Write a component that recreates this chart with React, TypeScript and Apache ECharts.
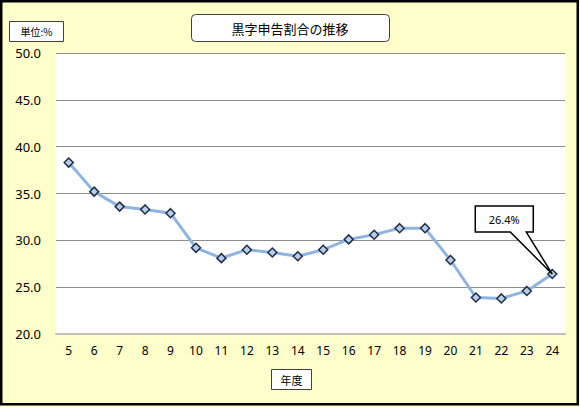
import React, { useEffect, useRef } from "react";
import * as echarts from "echarts";

const categories = ["5", "6", "7", "8", "9", "10", "11", "12", "13", "14", "15", "16", "17", "18", "19", "20", "21", "22", "23", "24"];
const values = [38.3, 35.2, 33.6, 33.3, 32.9, 29.2, 28.1, 29.0, 28.7, 28.3, 29.0, 30.1, 30.6, 31.3, 31.3, 27.9, 23.9, 23.8, 24.6, 26.4];
const titleText = "黒字申告割合の推移";
const unitText = "単位:%";
const xName = "年度";
const calloutText = "26.4%";

const W = 580;
const H = 407;
const JP = "'Noto Sans CJK JP', 'Noto Sans', sans-serif";
const NUM = "'Noto Sans', 'Liberation Sans', sans-serif";

export default function App() {
  const ref = useRef<HTMLDivElement>(null);
  useEffect(() => {
    document.body.style.margin = "0";
    if (!ref.current) return;
    const chart = echarts.init(ref.current, undefined, { renderer: "svg", width: W, height: H });
    const baseGraphic: any[] = [
      {
        type: "rect",
        silent: true,
        shape: { x: 1.25, y: 1.25, width: 576.5, height: 403 },
        style: { fill: "none", stroke: "#000", lineWidth: 2.5 },
      },
      {
        type: "rect",
        shape: { x: 191.5, y: 14.5, width: 198, height: 27, r: 4 },
        style: { fill: "#fff", stroke: "#404040", lineWidth: 1 },
      },
      {
        type: "text",
        x: 290,
        y: 28,
        style: { text: titleText, font: `13px ${JP}`, fill: "#000", align: "center", verticalAlign: "middle" },
      },
      {
        type: "rect",
        shape: { x: 9.5, y: 21.5, width: 54, height: 20 },
        style: { fill: "#fff", stroke: "#404040", lineWidth: 1 },
      },
      {
        type: "text",
        x: 36.5,
        y: 31.5,
        style: { text: unitText, font: `10px ${JP}`, fill: "#000", align: "center", verticalAlign: "middle" },
      },
      {
        type: "rect",
        shape: { x: 271.5, y: 369.5, width: 40, height: 20 },
        style: { fill: "#fff", stroke: "#404040", lineWidth: 1 },
      },
      {
        type: "text",
        x: 291.5,
        y: 379.5,
        style: { text: xName, font: `11px ${JP}`, fill: "#000", align: "center", verticalAlign: "middle" },
      },
    ];
    chart.setOption({
      animation: false,
      backgroundColor: "#FFFFCC",
      grid: {
        left: 56,
        right: 15,
        top: 53,
        bottom: 73,
        show: true,
        backgroundColor: "#fff",
        borderWidth: 0,
      },
      xAxis: {
        type: "category",
        data: categories,
        boundaryGap: true,
        axisTick: { show: false },
        axisLine: { show: true, lineStyle: { color: "#bfbfbf", width: 2 } },
        axisLabel: { color: "#000", fontSize: 12, fontFamily: NUM, margin: 10 },
      },
      yAxis: {
        type: "value",
        min: 20,
        max: 50,
        interval: 5,
        axisLine: { show: false },
        axisTick: { show: false },
        axisLabel: {
          color: "#000",
          fontSize: 13,
          fontFamily: NUM,
          margin: 15,
          formatter: (v: number) => v.toFixed(1),
        },
        splitLine: { lineStyle: { color: "#8c8c8c", width: 1 } },
      },
      graphic: baseGraphic,
      series: [
        {
          type: "line",
          data: values,
          symbol: "diamond",
          symbolSize: 9,
          lineStyle: { color: "#8EB4E3", width: 3 },
          itemStyle: { color: "#B9CDE5", borderColor: "#1F2D4D", borderWidth: 1.5 },
          z: 5,
        },
      ],
    });
    const lastIdx = values.length - 1;
    const p = chart.convertToPixel({ seriesIndex: 0 }, [lastIdx, values[lastIdx]]) as number[];
    const px = p[0];
    const py = p[1];
    const bx = px - 77;
    const by = py - 68;
    const bw = 58;
    const bh = 26;
    chart.setOption({
      graphic: [
        ...baseGraphic,
        {
          type: "polygon",
          z: 100,
          shape: {
            points: [
              [bx, by],
              [bx + bw, by],
              [bx + bw, by + bh],
              [px - 26, by + bh],
              [px, py],
              [px - 42, by + bh],
              [bx, by + bh],
            ],
          },
          style: { fill: "#fff", stroke: "#000", lineWidth: 1.5 },
        },
        {
          type: "text",
          z: 101,
          x: bx + bw / 2,
          y: by + bh / 2,
          style: { text: calloutText, font: `11px ${NUM}`, fill: "#000", align: "center", verticalAlign: "middle" },
        },
      ],
    });
    return () => chart.dispose();
  }, []);
  return <div ref={ref} style={{ width: W, height: H }} />;
}
